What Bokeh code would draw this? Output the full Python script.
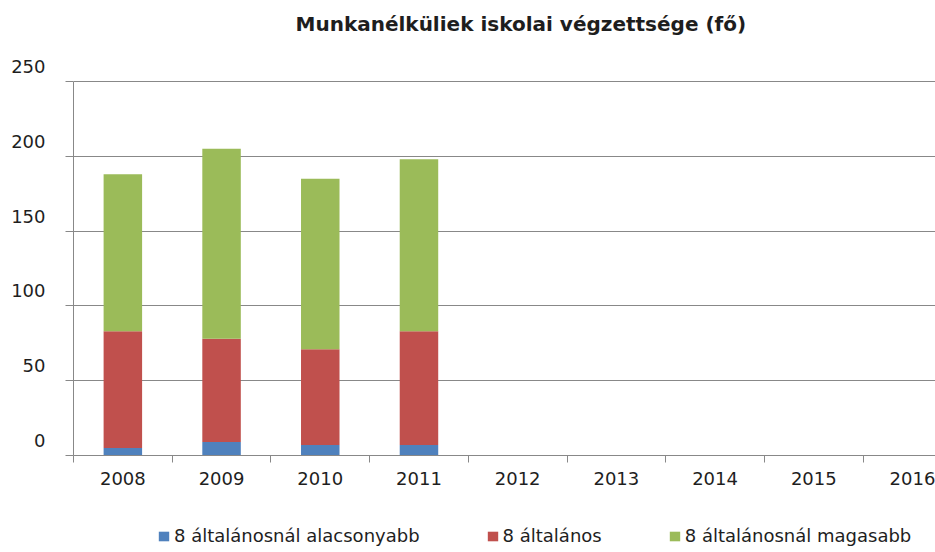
from bokeh.plotting import figure
from bokeh.models import (Range1d, FixedTicker, ColumnDataSource, Legend, LegendItem,
                          LinearAxis, Label)
from bokeh.layouts import column
from bokeh.embed import file_html
from bokeh.resources import INLINE

years = ["2008", "2009", "2010", "2011", "2012", "2013", "2014", "2015", "2016"]
data_years = ["2008", "2009", "2010", "2011"]
alacsonyabb = [5, 9, 7, 7]
altalanos = [78, 69, 64, 76]
magasabb = [105, 127, 114, 115]
series_names = ["8 általánosnál alacsonyabb", "8 általános", "8 általánosnál magasabb"]
colors = ["#4F81BD", "#C0504D", "#9BBB59"]
y_ticks = [0, 50, 100, 150, 200, 250]
title_text = "Munkanélküliek iskolai végzettsége (fő)"

FONT = "DejaVu Sans"
GRID = "#888888"
TEXT = "#1e1e1e"
LABEL_SHIFT = 10  # tick labels sit a little above their grid lines

x = [years.index(y) + 0.5 for y in data_years]
src = ColumnDataSource(dict(x=x, a=alacsonyabb, b=altalanos, c=magasabb))

# ---- title strip
tf = figure(width=935, height=50, output_backend="svg", toolbar_location=None,
            x_range=Range1d(0, 1), y_range=Range1d(0, 1),
            x_axis_location=None, y_axis_location=None,
            min_border_left=0, min_border_right=0, min_border_top=0, min_border_bottom=0)
tf.grid.visible = False
tf.outline_line_color = None
tf.add_layout(Label(x=222, y=27, x_units="screen", y_units="screen", text=title_text,
                    text_font=FONT, text_font_size="20px", text_font_style="bold",
                    text_color=TEXT, text_baseline="alphabetic", text_align="left"))

# ---- main chart
p = figure(width=935, height=450, output_backend="svg", toolbar_location=None,
           x_range=Range1d(0, 8.733), y_range=Range1d(0, 250 + LABEL_SHIFT),
           min_border_left=73, min_border_right=0, min_border_top=16, min_border_bottom=45)
p.extra_y_ranges = {"lab": Range1d(-LABEL_SHIFT, 250)}

rs = p.vbar_stack(["a", "b", "c"], x="x", width=0.39, color=colors, source=src, line_color=None)

p.outline_line_color = None
p.xgrid.visible = False
p.ygrid.grid_line_color = GRID
p.ygrid.ticker = FixedTicker(ticks=y_ticks)

xa = p.xaxis[0]
xa.ticker = FixedTicker(ticks=[i + 0.5 for i in range(len(years))],
                        minor_ticks=list(range(len(years) + 1)))
xa.major_label_overrides = {i + 0.5: years[i] for i in range(len(years))}
xa.major_tick_line_color = None
xa.major_tick_out = 0
xa.major_tick_in = 0
xa.minor_tick_out = 7
xa.minor_tick_in = 0
xa.minor_tick_line_color = GRID
xa.axis_line_color = GRID
xa.major_label_standoff = 9
xa.major_label_text_font = FONT
xa.major_label_text_font_size = "18px"
xa.major_label_text_color = TEXT

ya = p.yaxis[0]
ya.ticker = FixedTicker(ticks=y_ticks, minor_ticks=[])
ya.bounds = (0, 250)
ya.major_tick_out = 8
ya.major_tick_in = 0
ya.major_tick_line_color = GRID
ya.minor_tick_line_color = None
ya.axis_line_color = GRID
ya.major_label_standoff = 0
ya.major_label_overrides = {t: "" for t in y_ticks}

lab_axis = LinearAxis(y_range_name="lab", ticker=FixedTicker(ticks=y_ticks, minor_ticks=[]),
                      axis_line_color=None, major_tick_line_color=None,
                      minor_tick_line_color=None, major_tick_out=0, major_tick_in=0,
                      major_label_standoff=20, major_label_text_font=FONT,
                      major_label_text_font_size="18px", major_label_text_color=TEXT)
p.add_layout(lab_axis, "left")

# ---- legend strip
lg = figure(width=935, height=52, output_backend="svg", toolbar_location=None,
            x_range=Range1d(0, 1), y_range=Range1d(0, 1),
            x_axis_location=None, y_axis_location=None,
            min_border_left=0, min_border_right=0, min_border_top=0, min_border_bottom=0)
lg.grid.visible = False
lg.outline_line_color = None
series_vals = [alacsonyabb, altalanos, magasabb]
keys = [lg.vbar(x=x, top=v, width=0, color=c, line_color=None)
        for v, c in zip(series_vals, colors)]
items = [LegendItem(label=n, renderers=[r]) for n, r in zip(series_names, keys)]
legend = Legend(items=items, orientation="horizontal", location=(84, 6),
                padding=0, margin=0, spacing=66, label_standoff=4,
                glyph_width=13, glyph_height=12,
                label_text_font=FONT, label_text_font_size="18px", label_text_color=TEXT,
                border_line_color=None, background_fill_alpha=0)
lg.add_layout(legend, "center")

layout = column(tf, p, lg, spacing=0)
open("out.html", "w").write(file_html(layout, INLINE))
